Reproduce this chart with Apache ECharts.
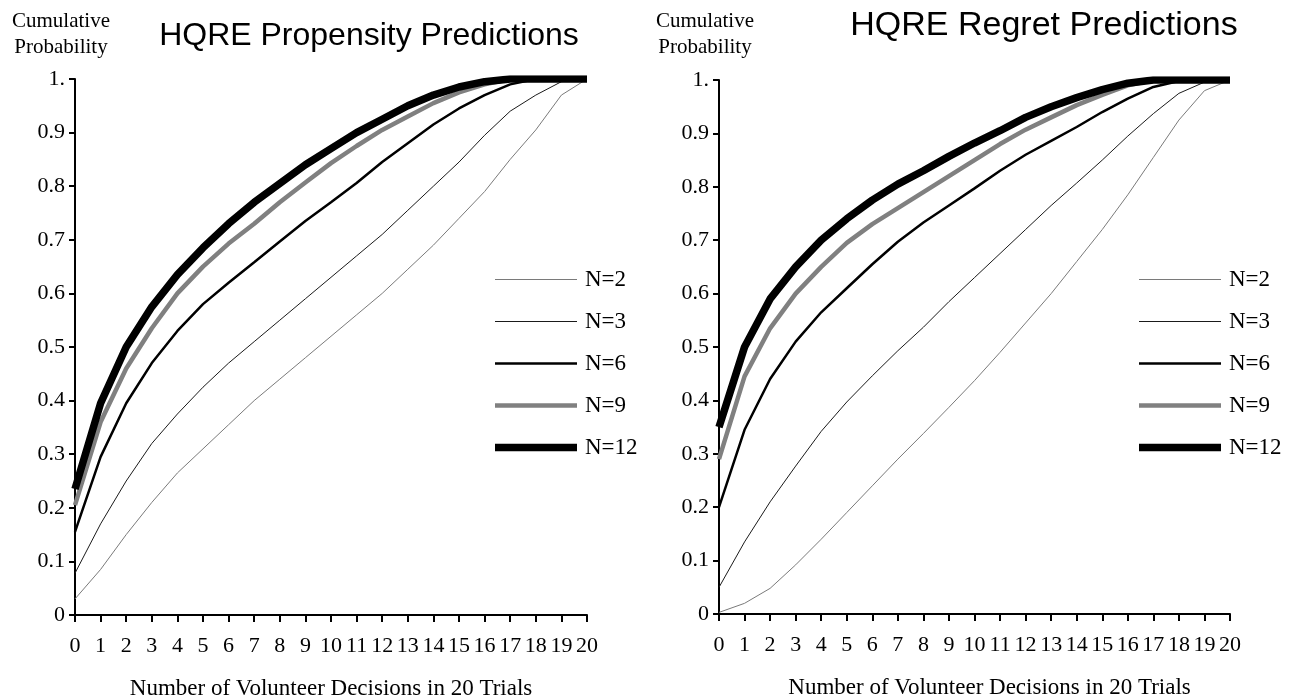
<!DOCTYPE html>
<html>
<head>
<meta charset="utf-8">
<title>HQRE Predictions</title>
<script src="https://cdn.jsdelivr.net/npm/echarts@6/dist/echarts.min.js"></script>
<style>
    html, body {margin: 0; padding: 0; background: #fff;}
    #chart {width: 1303px; height: 697px;}
</style>
</head>
<body>
<div id="chart"></div>
<script>
// number of volunteer decisions in 20 trials
const decisions = [0, 1, 2, 3, 4, 5, 6, 7, 8, 9, 10, 11, 12, 13, 14, 15, 16, 17, 18, 19, 20]
const groupNames = ['N=2', 'N=3', 'N=6', 'N=9', 'N=12']

// left panel: propensity
const propN2 = [0.03, 0.085, 0.15, 0.21, 0.265, 0.31, 0.355, 0.4, 0.44, 0.48, 0.52, 0.56, 0.6, 0.645, 0.69, 0.74, 0.79, 0.85, 0.905, 0.97, 1]
const propN3 = [0.078, 0.17, 0.25, 0.32, 0.375, 0.425, 0.47, 0.51, 0.55, 0.59, 0.63, 0.67, 0.71, 0.755, 0.8, 0.845, 0.895, 0.94, 0.97, 0.995, 1]
const propN6 = [0.155, 0.295, 0.395, 0.47, 0.53, 0.58, 0.62, 0.658, 0.697, 0.735, 0.77, 0.806, 0.845, 0.88, 0.915, 0.945, 0.97, 0.99, 1, 1, 1]
const propN9 = [0.205, 0.36, 0.46, 0.535, 0.6, 0.65, 0.693, 0.73, 0.77, 0.807, 0.843, 0.875, 0.905, 0.93, 0.955, 0.975, 0.99, 1, 1, 1, 1]
const propN12 = [0.235, 0.395, 0.5, 0.575, 0.635, 0.685, 0.73, 0.77, 0.805, 0.84, 0.87, 0.9, 0.925, 0.95, 0.97, 0.985, 0.995, 1, 1, 1, 1]

// right panel: regret
const regN2 = [0.003, 0.02, 0.048, 0.092, 0.14, 0.19, 0.24, 0.29, 0.338, 0.387, 0.437, 0.49, 0.545, 0.6, 0.66, 0.72, 0.785, 0.855, 0.925, 0.98, 1]
const regN3 = [0.05, 0.135, 0.21, 0.277, 0.342, 0.397, 0.446, 0.493, 0.537, 0.585, 0.63, 0.675, 0.72, 0.765, 0.807, 0.85, 0.895, 0.937, 0.975, 0.996, 1]
const regN6 = [0.2, 0.345, 0.44, 0.51, 0.565, 0.61, 0.655, 0.697, 0.733, 0.765, 0.797, 0.83, 0.86, 0.886, 0.912, 0.94, 0.965, 0.987, 0.998, 1, 1]
const regN9 = [0.29, 0.445, 0.535, 0.6, 0.65, 0.695, 0.73, 0.76, 0.79, 0.82, 0.85, 0.88, 0.907, 0.93, 0.953, 0.972, 0.99, 1, 1, 1, 1]
const regN12 = [0.35, 0.5, 0.59, 0.65, 0.7, 0.74, 0.775, 0.805, 0.83, 0.857, 0.882, 0.905, 0.93, 0.95, 0.967, 0.982, 0.994, 1, 1, 1, 1]

const yTicks = [0, 0.1, 0.2, 0.3, 0.4, 0.5, 0.6, 0.7, 0.8, 0.9, 1]

const serif = '"Liberation Serif", "DejaVu Serif", serif'
const sans = '"Liberation Sans", Arial, sans-serif'

const lineStyles = [
    {color: '#7a7a7a', width: 1},
    {color: '#1a1a1a', width: 1},
    {color: '#000', width: 2.5},
    {color: '#808080', width: 4.5},
    {color: '#000', width: 7.5}
]

const toPairs = (vals) => vals.map((v, i) => [decisions[i], v])

const makeSeries = (sets, gridIndex) => sets.map((vals, i) => ({
    name: groupNames[i],
    type: 'line',
    xAxisIndex: gridIndex,
    yAxisIndex: gridIndex,
    data: toPairs(vals),
    symbol: 'none',
    smooth: false,
    silent: true,
    z: 2 + i,
    lineStyle: {color: lineStyles[i].color, width: lineStyles[i].width, cap: 'butt'},
    itemStyle: {color: lineStyles[i].color}
}))

const xAxisOf = (gridIndex, shift) => ({
    type: 'value',
    gridIndex: gridIndex,
    min: 0,
    max: 20,
    interval: 1,
    name: 'Number of Volunteer Decisions in 20 Trials',
    nameLocation: 'middle',
    nameGap: 62,
    nameTextStyle: {fontFamily: serif, fontSize: 23, color: '#000', padding: [0, 0, 0, shift]},
    axisLine: {lineStyle: {color: '#000', width: 2}},
    axisTick: {length: 7, lineStyle: {color: '#000', width: 2}},
    axisLabel: {fontFamily: serif, fontSize: 22, color: '#000', margin: 20},
    splitLine: {show: false}
})

const yAxisOf = (gridIndex) => ({
    type: 'value',
    gridIndex: gridIndex,
    min: 0,
    max: 1,
    interval: 0.1,
    axisLine: {show: true, lineStyle: {color: '#000', width: 2}},
    axisTick: {show: true, length: 6, lineStyle: {color: '#000', width: 2}},
    axisLabel: {
        fontFamily: serif,
        fontSize: 22,
        color: '#000',
        margin: 10,
        formatter: (v) => {
            const t = yTicks.find(x => Math.abs(x - v) < 1e-6)
            return t === 1 ? '1.' : String(t)
        }
    },
    splitLine: {show: false}
})

// legend icons: flat bars with the line's thickness, no symbol
const legendOf = (left) => ({
    orient: 'vertical',
    left: left,
    top: 268,
    padding: 0,
    itemWidth: 82,
    itemHeight: 14,
    itemGap: 19,
    symbolKeepAspect: true,
    selectedMode: false,
    data: groupNames.map((name, i) => ({
        name: name,
        icon: 'path://M0,0H82V' + lineStyles[i].width + 'H0Z',
        itemStyle: {color: lineStyles[i].color, borderWidth: 0}
    })),
    textStyle: {fontFamily: serif, fontSize: 23, color: '#000', padding: [0, 0, 0, 3]}
})

const chart = echarts.init(document.getElementById('chart'))
chart.setOption({
    backgroundColor: '#fff',
    animation: false,
    title: [
        {text: 'HQRE Propensity Predictions', left: 364, top: 15, textAlign: 'center',
            textStyle: {fontFamily: sans, fontSize: 32, fontWeight: 'normal', color: '#000'}},
        {text: 'HQRE Regret Predictions', left: 1039, top: 4, textAlign: 'center',
            textStyle: {fontFamily: sans, fontSize: 34, fontWeight: 'normal', color: '#000'}},
        {text: 'Cumulative\nProbability', left: 56, top: 3, textAlign: 'center',
            textStyle: {fontFamily: serif, fontSize: 21, lineHeight: 26, fontWeight: 'normal', color: '#000'}},
        {text: 'Cumulative\nProbability', left: 700, top: 3, textAlign: 'center',
            textStyle: {fontFamily: serif, fontSize: 21, lineHeight: 26, fontWeight: 'normal', color: '#000'}}
    ],
    legend: [legendOf(495), legendOf(1139)],
    grid: [
        {left: 75, top: 79, width: 512, height: 536, outerBoundsMode: 'none'},
        {left: 719, top: 80, width: 511, height: 534, outerBoundsMode: 'none'}
    ],
    xAxis: [xAxisOf(0, 0), xAxisOf(1, 30)],
    yAxis: [yAxisOf(0), yAxisOf(1)],
    series: [
        ...makeSeries([propN2, propN3, propN6, propN9, propN12], 0),
        ...makeSeries([regN2, regN3, regN6, regN9, regN12], 1)
    ]
})
</script>
</body>
</html>
